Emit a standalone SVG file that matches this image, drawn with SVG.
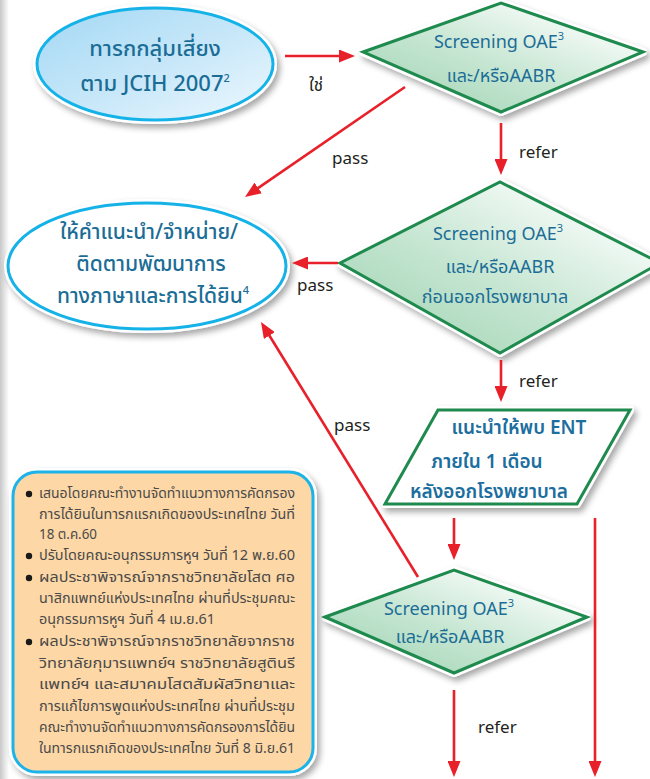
<svg xmlns="http://www.w3.org/2000/svg" width="650" height="779" viewBox="0 0 650 779">
<defs>
<linearGradient id="strip" x1="0" y1="0" x2="1" y2="0">
<stop offset="0" stop-color="#c8c8c8"/><stop offset="1" stop-color="#ffffff"/>
</linearGradient>
<linearGradient id="blueFill" x1="0" y1="0" x2="1" y2="1">
<stop offset="0" stop-color="#a3d8f4"/><stop offset="0.55" stop-color="#c9e8f9"/><stop offset="1" stop-color="#eef8fe"/>
</linearGradient>
<linearGradient id="greenFill" x1="0" y1="1" x2="1" y2="0">
<stop offset="0" stop-color="#9bd1b0"/><stop offset="0.45" stop-color="#c6e6d2"/><stop offset="0.8" stop-color="#f3faf6"/><stop offset="1" stop-color="#ffffff"/>
</linearGradient>
<filter id="shadow" x="-20%" y="-20%" width="140%" height="150%">
<feDropShadow dx="3" dy="4" stdDeviation="3" flood-color="#000" flood-opacity="0.35"/>
</filter>
<marker id="ah" viewBox="0 0 16 13" refX="8" refY="6.5" markerWidth="16" markerHeight="13" markerUnits="userSpaceOnUse" orient="auto">
<path d="M0,0 L16,6.5 L0,13 z" fill="#e8202a"/>
</marker>
<style>
.halo{fill:#fff;stroke:#fff;stroke-width:8;stroke-linejoin:round;filter:url(#shadow)}
.ell{stroke:#15b2e8;stroke-width:3}
.dia{fill:url(#greenFill);stroke:#1e8a4d;stroke-width:3;stroke-linejoin:miter}
.para{fill:#fff;stroke:#1e8a4d;stroke-width:3}
.nt{font-family:"Noto Sans Thai","Noto Sans","Open Sans",sans-serif;fill:#1b6d96;text-anchor:middle}
.dt{font-size:18px}
.et{font-size:21px;font-weight:500}
.et1{font-size:22px;font-weight:500}
.pt{font-size:19px;font-weight:600;fill:#1c6e9e}
.lbl{font-family:"Noto Sans Thai","Open Sans","Noto Sans",sans-serif;font-size:17px;fill:#231f20}
.conn line{stroke:#e8202a;stroke-width:2.6;fill:none}
.bt{font-family:"Noto Sans Thai","Noto Sans",sans-serif;font-size:14px;fill:#4a4a4a}
.sup{font-size:11px}
</style>
</defs>
<rect x="0" y="0" width="650" height="779" fill="#ffffff"/>
<rect x="0" y="0" width="9" height="779" fill="url(#strip)"/>

<g id="n-risk">
<ellipse class="halo" cx="155" cy="64" rx="118" ry="56"/>
<ellipse class="ell" cx="155" cy="64" rx="118" ry="56" fill="url(#blueFill)"/>
<text class="nt et1" x="155" y="56">ทารกกลุ่มเสี่ยง</text>
<text class="nt et1" x="155" y="91">ตาม JCIH 2007<tspan class="sup" dy="-9">2</tspan></text>
</g>

<g id="n-screen1">
<polygon class="halo" points="363,52 501,3 643,52 501,112"/>
<polygon class="dia" points="363,52 501,3 643,52 501,112"/>
<text class="nt dt" x="499" y="48">Screening OAE<tspan class="sup" dy="-8">3</tspan></text>
<text class="nt dt" x="501" y="82">และ/หรือAABR</text>
</g>

<g id="n-advice">
<ellipse class="halo" cx="147" cy="266" rx="139" ry="63"/>
<ellipse class="ell" cx="147" cy="266" rx="139" ry="63" fill="#ffffff"/>
<text class="nt et" x="149" y="239">ให้คำแนะนำ/จำหน่าย/</text>
<text class="nt et" x="151" y="271">ติดตามพัฒนาการ</text>
<text class="nt et" x="153" y="303">ทางภาษาและการได้ยิน<tspan class="sup" dy="-9">4</tspan></text>
</g>

<g id="n-screen2">
<polygon class="halo" points="340,263 500,182 660,263 500,353"/>
<polygon class="dia" points="340,263 500,182 660,263 500,353"/>
<text class="nt dt" x="498" y="240">Screening OAE<tspan class="sup" dy="-8">3</tspan></text>
<text class="nt dt" x="500" y="273">และ/หรือAABR</text>
<text class="nt dt" x="495" y="303">ก่อนออกโรงพยาบาล</text>
</g>

<g id="n-ent">
<polygon class="halo" points="438,410 630,410 577,504 385,504"/>
<polygon class="para" points="438,410 630,410 577,504 385,504"/>
<text class="nt pt" x="519" y="434">แนะนำให้พบ ENT</text>
<text class="nt pt" x="487" y="468">ภายใน 1 เดือน</text>
<text class="nt pt" x="489" y="498">หลังออกโรงพยาบาล</text>
</g>

<g id="n-screen3">
<polygon class="halo" points="325,617 454,570 587,617 454,673"/>
<polygon class="dia" points="325,617 454,570 587,617 454,673"/>
<text class="nt dt" x="449" y="615">Screening OAE<tspan class="sup" dy="-8">3</tspan></text>
<text class="nt dt" x="450" y="643">และ/หรือAABR</text>
</g>

<g id="n-note">
<rect class="halo" x="13" y="472" width="300" height="300" rx="24"/>
<rect x="13" y="472" width="300" height="300" rx="24" fill="#fdd7a5" stroke="#1cb3e8" stroke-width="3"/>
<g fill="#1a1a1a">
<circle cx="29" cy="494" r="3.2"/>
<circle cx="29" cy="556" r="3.2"/>
<circle cx="29" cy="578" r="3.2"/>
<circle cx="29" cy="642" r="3.2"/>
</g>
<text class="bt" x="39" y="498" textLength="256" lengthAdjust="spacingAndGlyphs">เสนอโดยคณะทำงานจัดทำแนวทางการคัดกรอง</text>
<text class="bt" x="39" y="519" textLength="256" lengthAdjust="spacingAndGlyphs">การได้ยินในทารกแรกเกิดของประเทศไทย วันที่</text>
<text class="bt" x="39" y="539" textLength="58" lengthAdjust="spacingAndGlyphs">18 ต.ค.60</text>
<text class="bt" x="39" y="560" textLength="256" lengthAdjust="spacingAndGlyphs">ปรับโดยคณะอนุกรรมการหูฯ วันที่ 12 พ.ย.60</text>
<text class="bt" x="39" y="582" textLength="256" lengthAdjust="spacingAndGlyphs">ผลประชาพิจารณ์จากราชวิทยาลัยโสต ศอ</text>
<text class="bt" x="39" y="603" textLength="256" lengthAdjust="spacingAndGlyphs">นาสิกแพทย์แห่งประเทศไทย ผ่านที่ประชุมคณะ</text>
<text class="bt" x="39" y="624" textLength="176" lengthAdjust="spacingAndGlyphs">อนุกรรมการหูฯ วันที่ 4 เม.ย.61</text>
<text class="bt" x="39" y="646" textLength="256" lengthAdjust="spacingAndGlyphs">ผลประชาพิจารณ์จากราชวิทยาลัยจากราช</text>
<text class="bt" x="39" y="668" textLength="256" lengthAdjust="spacingAndGlyphs">วิทยาลัยกุมารแพทย์ฯ ราชวิทยาลัยสูตินรี</text>
<text class="bt" x="39" y="689" textLength="256" lengthAdjust="spacingAndGlyphs">แพทย์ฯ และสมาคมโสตสัมผัสวิทยาและ</text>
<text class="bt" x="39" y="711" textLength="256" lengthAdjust="spacingAndGlyphs">การแก้ไขการพูดแห่งประเทศไทย ผ่านที่ประชุม</text>
<text class="bt" x="39" y="732" textLength="256" lengthAdjust="spacingAndGlyphs">คณะทำงานจัดทำแนวทางการคัดกรองการได้ยิน</text>
<text class="bt" x="39" y="753" textLength="256" lengthAdjust="spacingAndGlyphs">ในทารกแรกเกิดของประเทศไทย วันที่ 8 มิ.ย.61</text>
</g>

<g id="connectors" class="conn">
<line x1="285" y1="56" x2="347" y2="56" marker-end="url(#ah)"/>
<line x1="501" y1="123" x2="501" y2="167" marker-end="url(#ah)"/>
<line x1="405" y1="87" x2="251.6" y2="192.5" marker-end="url(#ah)"/>
<line x1="338" y1="263" x2="300" y2="263" marker-end="url(#ah)"/>
<line x1="501" y1="360" x2="501" y2="394" marker-end="url(#ah)"/>
<line x1="454" y1="518" x2="454" y2="552" marker-end="url(#ah)"/>
<line x1="595" y1="518" x2="595" y2="769" marker-end="url(#ah)"/>
<line x1="454" y1="690" x2="454" y2="769" marker-end="url(#ah)"/>
<line x1="418" y1="577" x2="265.2" y2="328.8" marker-end="url(#ah)"/>
</g>

<g id="labels">
<text class="lbl" x="309" y="91">ใช่</text>
<text class="lbl" x="332" y="164">pass</text>
<text class="lbl" x="519" y="158">refer</text>
<text class="lbl" x="297" y="291">pass</text>
<text class="lbl" x="519" y="387">refer</text>
<text class="lbl" x="334" y="431">pass</text>
<text class="lbl" x="478" y="733">refer</text>
</g>
</svg>
